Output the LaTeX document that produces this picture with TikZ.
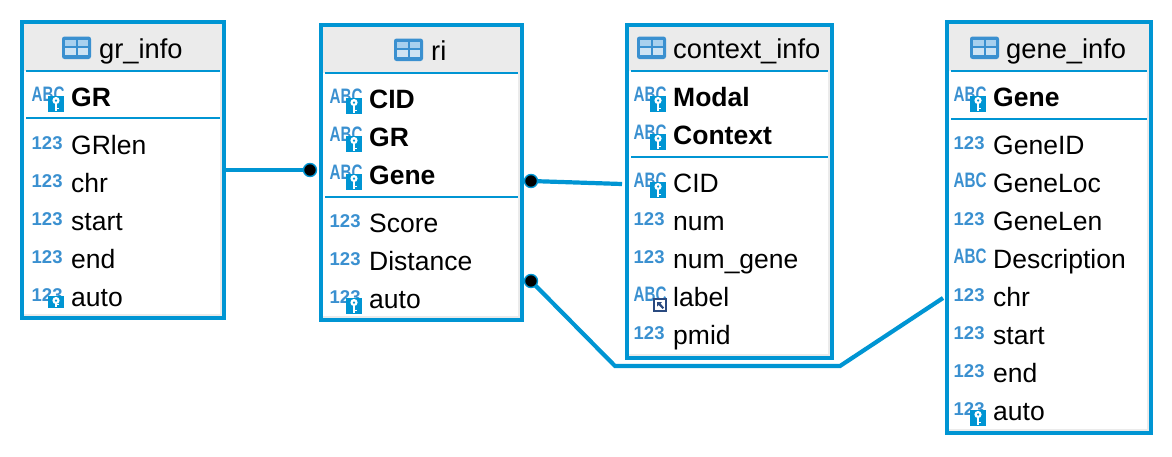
\documentclass[tikz,border=0pt]{standalone}
\usepackage{fontspec}
\setmainfont{Liberation Sans}
\definecolor{edge}{HTML}{0095D3}
\definecolor{head}{HTML}{EBEBEB}
\definecolor{ico}{HTML}{3A90D0}
\definecolor{icopale}{HTML}{A8D0EE}
\definecolor{linkc}{HTML}{2A4A80}
\tikzset{
  tablebox/.style={draw=edge,line width=4.2pt,fill=white,inner sep=0pt,outer sep=0pt},
  rule/.style={draw=edge,line width=2pt},
  link/.style={draw=edge,line width=4.2pt,line join=miter},
  fieldtext/.style={anchor=base west,inner sep=0pt,font=\fontsize{26.5}{30}\selectfont,text=black},
  keytext/.style={fieldtext,font=\fontsize{26.5}{30}\selectfont\bfseries},
  titletext/.style={anchor=base west,inner sep=0pt,font=\fontsize{27.3}{30}\selectfont,text=black},
  numicon/.style={anchor=base west,inner sep=0pt,font=\fontsize{18.5}{20}\selectfont\bfseries,text=ico},
  abcicon/.style={anchor=base west,inner sep=0pt,xscale=.8,yscale=1.1,font=\fontsize{19}{20}\selectfont\bfseries,text=ico},
  dot/.style={circle,fill=black,draw=edge,line width=1.4pt,minimum size=13pt,inner sep=0pt,outer sep=0pt},
}
% table frame: name, x1, y1, x2, y2, header rule y, key rule y
\newcommand{\tablebody}[7]{%
  \node[tablebox,minimum width=#4pt-#2pt,minimum height=#5pt-#3pt,anchor=north west] (#1) at (#2,#3) {};
  \fill[head] (#2+2,#3+2) rectangle (#4-2,#6);
  \fill[head] (#4-8,#6) rectangle (#4-2,#5-2);
  \fill[head] (#2+2,#5-8) rectangle (#4-2,#5-2);
  \fill[white] (#2+2,#6) rectangle (#4-4.5,#5-4.5);
  \draw[rule] (#2+4,#6) -- (#4-4,#6);
  \draw[rule] (#2+4,#7) -- (#4-4,#7);
}
% title: name, icon x, text x, centre y, text
\newcommand{\tabletitle}[5]{%
  \fill[ico,rounded corners=2.5pt] (#2,#4-12.5) rectangle (#2+29,#4+10);
  \fill[icopale] (#2+3,#4-9) rectangle (#2+13.5,#4-3);
  \fill[icopale] (#2+15.5,#4-9) rectangle (#2+26,#4-3);
  \fill[white!75!ico] (#2+3,#4-1) rectangle (#2+13.5,#4+6);
  \fill[white!75!ico] (#2+15.5,#4-1) rectangle (#2+26,#4+6);
  \node[titletext] (#1) at (#3,#4+9) {#5};
}
\newcommand{\keybadge}[3]{% x, y, height
  \fill[edge] (#1,#2) rectangle (#1+16,#2+#3);
  \fill[white,even odd rule] (#1+8,#2+4.5) circle (3.6) (#1+8,#2+4.5) circle (1.5);
  \fill[white] (#1+7,#2+7.5) rectangle (#1+9,#2+#3-1);
  \fill[white] (#1+9,#2+#3-4.5) rectangle (#1+11,#2+#3-3);
}
\newcommand{\linkbadge}[2]{%
  \fill[linkc] (#1,#2) rectangle (#1+14,#2+14);
  \fill[white] (#1+2,#2+2) rectangle (#1+12,#2+12);
  \fill[linkc] (#1+4,#2+4) -- (#1+9,#2+4) -- (#1+7.5,#2+5.5) -- (#1+11,#2+9.5) -- (#1+9.5,#2+11) -- (#1+5.5,#2+7) -- (#1+4,#2+8.5) -- cycle;
}
% field rows: name, text x, row y, text
\newcommand{\numrow}[4]{%
  \node[numicon] (#1i) at (#2-39.5,#3+4) {123};
  \node[fieldtext] (#1) at (#2,#3+9) {#4};
}
\newcommand{\abcrow}[4]{%
  \node[abcicon] (#1i) at (#2-39.5,#3+4) {ABC};
  \node[fieldtext] (#1) at (#2,#3+9) {#4};
}
\newcommand{\pkrow}[4]{%
  \node[abcicon] (#1i) at (#2-39.5,#3+4) {ABC};
  \keybadge{#2-23}{#3-1}{16}
  \node[keytext] (#1) at (#2,#3+9) {#4};
}
\newcommand{\fkrow}[4]{%
  \node[abcicon] (#1i) at (#2-39.5,#3+4) {ABC};
  \keybadge{#2-23}{#3-1}{16}
  \node[fieldtext] (#1) at (#2,#3+9) {#4};
}
\newcommand{\autorow}[5]{% name, x, y, text, badge height
  \node[numicon] (#1i) at (#2-39.5,#3+4) {123};
  \keybadge{#2-23}{#3-1}{#5}
  \node[fieldtext] (#1) at (#2,#3+9) {#4};
}
\begin{document}
\begin{tikzpicture}[x=1pt,y=-1pt]
\useasboundingbox (0,0) rectangle (1172,456);
% gr_info
\tablebody{grinfo}{22}{22}{224}{318}{71}{118}
\tabletitle{grinfot}{62}{99}{49}{gr\_info}
\pkrow{grGR}{71}{97}{GR}
\numrow{grGRlen}{71}{145}{GRlen}
\numrow{grchr}{71}{183}{chr}
\numrow{grstart}{71}{221}{start}
\numrow{grend}{71}{259}{end}
\autorow{grauto}{71}{297}{auto}{12}
% ri
\tablebody{ri}{321}{25}{522}{320}{73}{197}
\tabletitle{rit}{394}{431}{51}{ri}
\pkrow{riCID}{369}{99}{CID}
\pkrow{riGR}{369}{137}{GR}
\pkrow{riGene}{369}{175}{Gene}
\numrow{riScore}{369}{223}{Score}
\numrow{riDistance}{369}{261}{Distance}
\autorow{riauto}{369}{299}{auto}{16}
% context_info
\tablebody{ctx}{627}{25}{832}{358}{71}{157}
\tabletitle{ctxt}{637}{673}{49}{context\_info}
\pkrow{ctxModal}{673}{97}{Modal}
\pkrow{ctxContext}{673}{135}{Context}
\fkrow{ctxCID}{673}{183}{CID}
\numrow{ctxnum}{673}{221}{num}
\numrow{ctxnumgene}{673}{259}{num\_gene}
\abcrow{ctxlabel}{673}{297}{label}
\linkbadge{653}{298}
\numrow{ctxpmid}{673}{335}{pmid}
% gene_info
\tablebody{gene}{947}{22}{1151}{433}{71}{119}
\tabletitle{genet}{970}{1006}{49}{gene\_info}
\pkrow{geneGene}{993}{97}{Gene}
\numrow{geneGeneID}{993}{145}{GeneID}
\abcrow{geneGeneLoc}{993}{183}{GeneLoc}
\numrow{geneGeneLen}{993}{221}{GeneLen}
\abcrow{geneDescription}{993}{259}{Description}
\numrow{genechr}{993}{297}{chr}
\numrow{genestart}{993}{335}{start}
\numrow{geneend}{993}{373}{end}
\autorow{geneauto}{993}{411}{auto}{16}
% connectors
\coordinate (grout) at (grinfo.east |- 0,170);
\coordinate (ctxin) at (622,184);
\coordinate (bendA) at (615,366);
\coordinate (bendB) at (840,366);
\coordinate (genein) at (943,298);
\node[dot] (d1) at (310,170) {};
\node[dot] (d2) at (531,181) {};
\node[dot] (d3) at (531,281) {};
\draw[link] (grout) -- (d1);
\draw[link] (d2) -- (ctxin);
\draw[link] (d3) -- (bendA) -- (bendB) -- (genein);
\end{tikzpicture}
\end{document}
